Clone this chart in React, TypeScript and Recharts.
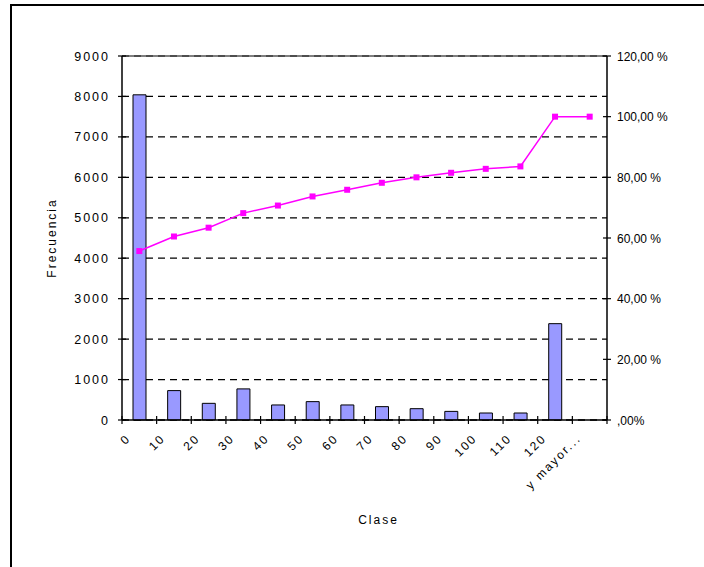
import React from 'react';
import {
  ComposedChart,
  Bar,
  Line,
  XAxis,
  YAxis,
  CartesianGrid,
  ReferenceLine,
} from 'recharts';

// histogram values
const clases = ['0', '10', '20', '30', '40', '50', '60', '70', '80', '90', '100', '110', '120', 'y mayor...'];
const frecuencia = [8040, 727, 412, 769, 372, 454, 372, 330, 280, 213, 173, 173, 2382, 0];
const acumulado = [55.7, 60.5, 63.4, 68.2, 70.7, 73.7, 75.9, 78.2, 80.0, 81.5, 82.8, 83.6, 100, 100];
const freqTicks = [0, 1000, 2000, 3000, 4000, 5000, 6000, 7000, 8000, 9000];
const pctTicks = [0, 20, 40, 60, 80, 100, 120];

const data = clases.map((c, i) => ({ clase: c, frecuencia: frecuencia[i], acumulado: acumulado[i] }));

const W = 704;
const H = 567;
const MARGIN = { top: 56, right: 7, left: 62, bottom: 0 };
const LEFT_W = 60;
const RIGHT_W = 90;
const X_H = 147;
const PLOT_W = W - MARGIN.left - MARGIN.right - LEFT_W - RIGHT_W;
const BAND = PLOT_W / clases.length;
const FONT = '"Liberation Sans", Arial, sans-serif';

function LeftTick(props: any) {
  const { x, y, payload } = props;
  const ax = x + 12;
  return (
    <g>
      <line x1={ax - 4} x2={ax + 4} y1={y} y2={y} stroke="#000" strokeWidth={1.2} />
      <text x={x} y={y} dy={4.5} textAnchor="end" fontFamily={FONT} fontSize={12.5} letterSpacing={2} fill="#000">
        {payload.value}
      </text>
    </g>
  );
}

function RightTick(props: any) {
  const { x, y, payload } = props;
  const ax = x - 10;
  const v = payload.value;
  const label = v === 0 ? ',00%' : `${v},00 %`;
  return (
    <g>
      <line x1={ax - 4} x2={ax + 4} y1={y} y2={y} stroke="#000" strokeWidth={1.2} />
      <text x={x} y={y} dy={4.5} textAnchor="start" fontFamily={FONT} fontSize={12} fill="#000">
        {label}
      </text>
    </g>
  );
}

function BottomTick(props: any) {
  const { x, y, payload, index } = props;
  const ay = y - 6;
  const bx = x - BAND / 2;
  return (
    <g>
      <line x1={bx} x2={bx} y1={ay - 4} y2={ay + 4} stroke="#000" strokeWidth={1.2} />
      {index === clases.length - 1 && (
        <line x1={x + BAND / 2} x2={x + BAND / 2} y1={ay - 4} y2={ay + 4} stroke="#000" strokeWidth={1.2} />
      )}
      <g transform={`translate(${x - 8},${ay + 19}) rotate(-45)`}>
        <text x={0} y={0} textAnchor="end" fontFamily={FONT} fontSize={12} letterSpacing={2} fill="#000">
          {payload.value}
        </text>
      </g>
    </g>
  );
}

function SquareDot(props: any) {
  const { cx, cy } = props;
  if (cx == null || cy == null) return null;
  return <rect x={cx - 3} y={cy - 3} width={6} height={6} fill="#ff00ff" />;
}

export default function App() {
  return (
    <div style={{ position: 'absolute', left: 0, top: 0, width: W, height: H, overflow: 'hidden', background: '#fff' }}>
      <div
        style={{
          position: 'absolute',
          left: 10,
          top: 4,
          width: W,
          height: H,
          borderTop: '2px solid #000',
          borderLeft: '2px solid #000',
        }}
      />
      <div style={{ position: 'absolute', left: 0, top: 0 }}>
        <ComposedChart width={W} height={H} data={data} margin={MARGIN}>
          <CartesianGrid vertical={false} yAxisId="freq" stroke="#000" strokeWidth={1.3} strokeDasharray="7 5" />
          <ReferenceLine yAxisId="freq" y={9000} stroke="#555" strokeWidth={1.3} />
          <XAxis
            dataKey="clase"
            height={X_H}
            interval={0}
            tickLine={false}
            tickSize={4}
            tickMargin={2}
            axisLine={{ stroke: '#000', strokeWidth: 1.5 }}
            tick={<BottomTick />}
            label={{
              content: (p: any) => {
                const vb = p.viewBox;
                return (
                  <text
                    x={vb.x + vb.width / 2 + 14}
                    y={vb.y + 104}
                    textAnchor="middle"
                    fontFamily={FONT}
                    fontSize={12}
                    letterSpacing={2}
                    fill="#000"
                  >
                    Clase
                  </text>
                );
              },
            }}
          />
          <YAxis
            yAxisId="freq"
            width={LEFT_W}
            domain={[0, 9000]}
            ticks={freqTicks}
            tickLine={false}
            tickSize={4}
            tickMargin={8}
            axisLine={{ stroke: '#000', strokeWidth: 1.5 }}
            tick={<LeftTick />}
            label={{
              content: (p: any) => {
                const vb = p.viewBox;
                const cx = vb.x - 6;
                const cy = vb.y + vb.height / 2;
                return (
                  <text
                    x={cx}
                    y={cy}
                    transform={`rotate(-90 ${cx} ${cy})`}
                    textAnchor="middle"
                    fontFamily={FONT}
                    fontSize={12}
                    letterSpacing={2}
                    fill="#000"
                  >
                    Frecuencia
                  </text>
                );
              },
            }}
          />
          <YAxis
            yAxisId="pct"
            orientation="right"
            width={RIGHT_W}
            domain={[0, 120]}
            ticks={pctTicks}
            tickLine={false}
            tickSize={4}
            tickMargin={6}
            axisLine={{ stroke: '#000', strokeWidth: 1.5 }}
            tick={<RightTick />}
          />
          <Bar
            yAxisId="freq"
            dataKey="frecuencia"
            barSize={13}
            fill="#9999ff"
            stroke="#000"
            strokeWidth={1}
            isAnimationActive={false}
          />
          <Line
            yAxisId="pct"
            dataKey="acumulado"
            type="linear"
            stroke="#ff00ff"
            strokeWidth={1.5}
            dot={<SquareDot />}
            activeDot={false}
            isAnimationActive={false}
          />
        </ComposedChart>
      </div>
    </div>
  );
}
